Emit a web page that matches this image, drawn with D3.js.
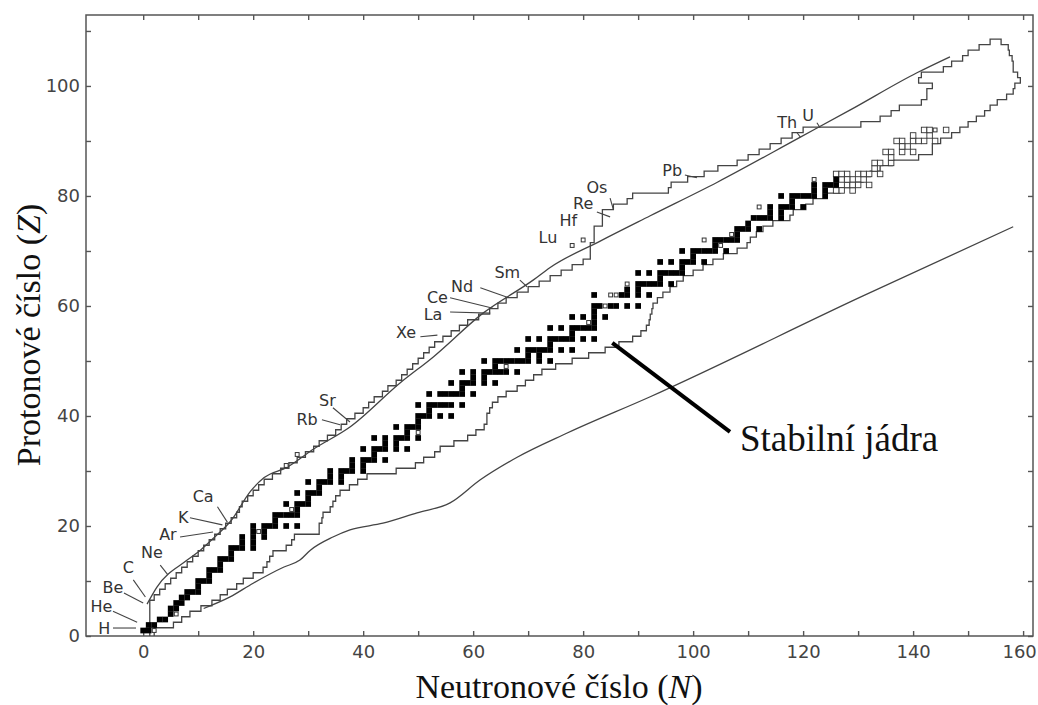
<!DOCTYPE html>
<html lang="cs">
<head>
<meta charset="utf-8">
<title>Stabilní jádra</title>
<script src="https://cdn.jsdelivr.net/npm/d3@7"></script>
<style>
  body { margin: 0; background: #fff; }
  svg { display: block; }
</style>
</head>
<body>
<script>

// stable nuclides, index = proton number Z, values = neutron numbers N
var stableByZ = [
  [], [0,1], [1,2], [3,4], [5], [5,6], [6,7], [7,8], [8,9,10], [10],
  [10,11,12], [12], [12,13,14], [14], [14,15,16], [16], [16,17,18,20], [18,20], [18,20,22], [20,22],
  [20,22,23,24,26,28], [24], [24,25,26,27,28], [28], [26,28,29,30], [30], [28,30,31,32], [32], [30,32,33,34,36], [34,36],
  [34,36,37,38,40], [38,40], [38,40,41,42,44], [42], [40,42,43,44,46,48], [44,46], [42,44,46,47,48,50], [48], [46,48,49,50], [50],
  [50,51,52,54,56], [52], [50,52,53,54,55,56,58], [], [52,54,55,56,57,58,60], [58], [56,58,59,60,62,64], [60,62], [58,60,62,63,64,65,66,68], [64],
  [62,64,65,66,67,68,69,70,72,74], [70,72], [68,70,71,72,73,74,76,78], [74], [70,72,74,75,76,77,78,80,82], [78], [74,76,78,79,80,81,82], [82], [78,80,82,84], [82],
  [82,83,85,86,88,90], [], [82,87,88,90,92], [88,90], [90,91,92,93,94,96], [94], [90,92,94,95,96,97,98], [98], [94,96,98,99,100,102], [100],
  [98,100,101,102,103,104,106], [104], [104,105,106,107,108], [108], [108,109,110,112], [110], [111,112,113,114,116], [114,116], [114,116,117,118,120], [118],
  [116,118,119,120,121,122,124], [122,124], [122,124,125,126], [126]
];

// long-lived nuclides (open squares), [N, Z]
var longLived = [
  [2,1], [6,4], [21,19], [27,23], [26,31], [28,33], [50,37], [66,49], [81,57], [84,60],
  [85,62], [86,62], [88,64], [78,71], [80,72], [102,72], [105,71], [107,73], [112,78], [122,83], [144,92]
];

// members of the natural decay chains (gridded squares), [N, Z]
var chainNuclides = [
  [146,92], [144,90], [143,91], [142,92], [140,90], [138,88], [136,86], [134,84], [133,85], [132,82],
  [131,83], [130,84], [129,81], [128,82], [127,83], [126,84],
  [142,90], [140,88], [139,89], [138,90], [136,88], [134,86], [132,84], [130,82], [129,83], [128,84], [127,81],
  [143,92], [141,90], [140,91], [138,89], [137,90], [136,87], [135,88], [133,86], [131,84], [129,82], [128,83], [127,84], [126,81]
];

// edges of the region of known nuclides, index = Z, value = N of the boundary line
var lightEdgeN = [
  1.2, 1.2, 1.2, 1.2, 1.2, 1.2, 1.2, 2, 3, 4,
  5, 6, 7, 8, 9, 10, 11, 12, 13, 14,
  15, 16, 17, 17.5, 18, 19, 20, 21, 22, 23.5,
  25, 26.5, 28, 29.5, 31, 32, 33.5, 35, 36, 37,
  38.5, 40, 41, 42, 43.5, 44.5, 46, 47, 48, 49,
  50, 51, 52, 53, 54.5, 56, 57.5, 59, 61, 63,
  64.5, 66, 68, 70, 72, 74, 76, 78, 80, 81.3,
  81.3, 81.3, 82, 82, 82, 83.5, 83.5, 83.5, 85.5, 88,
  89, 95.5, 96, 99, 102, 104.5, 108, 110, 112, 114,
  116, 118, 120, 130.5, 134, 136, 137.5, 141.5, 142.5, 142.5,
  143.5, 141, 141.5, 145.5, 147, 149, 150, 152, 154
];
var heavyEdgeN = [
  2, 2, 5.5, 7, 8.5, 10.5, 12.5, 14, 15.3, 17,
  18.2, 20, 21.8, 22.5, 23, 23.6, 26, 27, 27.5, 32,
  32, 32.5, 32.7, 34, 34.5, 35, 35.8, 37.5, 39, 40.7,
  46, 49.5, 51, 53, 54, 56.5, 59, 60.5, 62, 62.5,
  62.5, 63, 63.5, 64.5, 66, 68, 69.5, 71, 72.5, 75,
  78, 81, 84, 86.5, 89, 90.5, 91.5, 92, 92.2, 92.5,
  92.7, 93.5, 94.5, 95.8, 97, 98.2, 100, 101.8, 103.6, 105.5,
  108, 109.8, 110.4, 111.5, 112.7, 114.5, 117.6, 118.2, 120.5, 121.8,
  124.4, 126.7, 129.1, 130.9, 132.2, 134, 136.2, 141, 143.5, 143.5,
  145, 147, 148.5, 150, 151.5, 153, 154, 155.3, 157, 158.2,
  158.5, 159.5, 159, 158.2, 158.2, 158, 157.5, 157.3, 156
];

// smooth limit curves, [N, Z]
var protonLimit = [
  [0.7,5.8], [2.5,8.9], [8,13.8], [10.4,15.6], [13,18], [16,21], [19.5,26.3], [22,28.8], [26.2,30.7], [31,34],
  [37.6,38], [46.7,46], [52.7,50.7], [61.8,58.7], [70.9,64.7], [74,67], [83.1,71.8], [92.2,76.4], [104.4,82.5],
  [119.5,90.7], [128.5,95.6], [140.7,102.4], [146.7,105.3]
];
var neutronLimit = [
  [11,5], [15.8,7.1], [20,9.6], [25.5,12.5], [28.5,13.8], [30.4,15.6], [34.5,18], [37.6,19.3], [43.6,20.5],
  [49.8,22.4], [55.8,24.2], [61.3,28.4], [68,32.5], [77.1,36.9], [92.2,43.5], [130.4,61.6], [158.2,74.4]
];

// element names with text position and leader line ([N, Z])
var elementNames = ["H","He","Be","C","Ne","Ar","K","Ca","Rb","Sr","Xe","La","Ce","Nd","Sm","Lu","Hf","Re","Os","Pb","Th","U"];
var elementTextAt = [
  [-7.1,1.45], [-7.6,5.3], [-5.5,8.9], [-2.7,12.5], [1.6,15.1], [4.5,18.4], [7.3,21.6], [10.9,25.3], [29.8,39.3], [33.5,42.9],
  [47.8,55.1], [52.7,58.4], [53.5,61.5], [58,63.5], [66.2,66], [73.6,72.5], [77.3,75.6], [80,78.7], [82.5,81.6], [96.2,84.7],
  [117.1,93.3], [120.9,94.7]
];
var leaderFrom = [
  [-5.5,1.45], [-5.5,4.5], [-3.5,7.8], [-1.8,10.2], [3.1,12.9], [6.7,18], [8.5,21.5], [13.5,23.5], [32.5,39.3], [34.5,41.5],
  [50.4,54.4], [55.8,58.9], [55.8,61.5], [61.3,63.3], [68.5,64.7], null, null, [82.5,77.1], [84.9,79.6], [98.5,83.8],
  [118.9,91.5], [122.5,93.3]
];
var leaderTo = [
  [-1.3,1.45], [-1.1,2.5], [0,6], [0.4,7.1], [4.5,11.1], [12.7,18.9], [14.4,20.2], [15.3,20.7], [35.8,38.4], [37.6,38.9],
  [53.5,54.7], [63.1,58.7], [63.6,59.6], [66.2,61.6], [69.8,63.5], null, null, [84.9,76.2], [85.5,77.5], [100.7,83.3],
  [119.5,90.7], [123.1,92.4]
];

var xMajor = [0, 20, 40, 60, 80, 100, 120, 140, 160];
var xMinor = [10, 30, 50, 70, 90, 110, 130, 150];
var yMajor = [0, 20, 40, 60, 80, 100];
var yMinor = [10, 30, 50, 70, 90, 110];

//Width and height
var w = 1038;
var h = 705;

var x = d3.scaleLinear().domain([-10.4, 161.8]).range([86, 1033]);
var y = d3.scaleLinear().domain([0, 112.9]).range([636, 15]);

var svg = d3.select("body")
  .append("svg")
  .attr("width", w)
  .attr("height", h);

var lineColor = "#444";
var cell = x(1) - x(0);

// axes, ticks pointing inwards on all four sides
function styleAxis(g) {
  g.select(".domain").remove();
  g.selectAll("line").attr("stroke", "#555").attr("stroke-width", 1.4);
  g.selectAll("text")
    .attr("font-family", "'DejaVu Sans', sans-serif")
    .attr("font-size", "18px")
    .attr("fill", "#444");
}

svg.append("g")
  .attr("transform", "translate(0," + y(0) + ")")
  .call(d3.axisBottom(x)
    .tickValues(xMajor.concat(xMinor))
    .tickSizeInner(-5).tickSizeOuter(0).tickPadding(9)
    .tickFormat(function(d) { return xMajor.indexOf(d) >= 0 ? d : ""; }))
  .call(styleAxis)
  .selectAll("text")
  .filter(function(d) { return d === 160; })
  .attr("dx", "-4");

svg.append("g")
  .attr("transform", "translate(0," + y(112.9) + ")")
  .call(d3.axisTop(x).tickValues(xMajor.concat(xMinor)).tickSizeInner(-5).tickSizeOuter(0).tickFormat(""))
  .call(styleAxis);

svg.append("g")
  .attr("transform", "translate(" + x(-10.4) + ",0)")
  .call(d3.axisLeft(y)
    .tickValues(yMajor.concat(yMinor))
    .tickSizeInner(-5).tickSizeOuter(0).tickPadding(6)
    .tickFormat(function(d) { return yMajor.indexOf(d) >= 0 ? d : ""; }))
  .call(styleAxis);

svg.append("g")
  .attr("transform", "translate(" + x(161.8) + ",0)")
  .call(d3.axisRight(y).tickValues(yMajor.concat(yMinor)).tickSizeInner(-5).tickSizeOuter(0).tickFormat(""))
  .call(styleAxis);

svg.append("rect")
  .attr("x", x(-10.4))
  .attr("y", y(112.9))
  .attr("width", x(161.8) - x(-10.4))
  .attr("height", y(0) - y(112.9))
  .attr("fill", "none")
  .attr("stroke", "#555")
  .attr("stroke-width", 1.5);

// boundary of known nuclides as a staircase
var contour = [];
lightEdgeN.forEach(function(n, z) {
  contour.push([n, Math.max(z - 0.5, 0)]);
  contour.push([n, z + 0.5]);
});
for (var z = heavyEdgeN.length - 1; z >= 0; z--) {
  contour.push([heavyEdgeN[z], z + 0.5]);
  contour.push([heavyEdgeN[z], Math.max(z - 0.5, 0)]);
}

var line = d3.line()
  .x(function(d) { return x(d[0]); })
  .y(function(d) { return y(d[1]); });

svg.append("path")
  .attr("d", line(contour))
  .attr("fill", "none")
  .attr("stroke", lineColor)
  .attr("stroke-width", 1.3);

var smooth = d3.line()
  .x(function(d) { return x(d[0]); })
  .y(function(d) { return y(d[1]); })
  .curve(d3.curveMonotoneX);

[protonLimit, neutronLimit].forEach(function(c) {
  svg.append("path")
    .attr("d", smooth(c))
    .attr("fill", "none")
    .attr("stroke", lineColor)
    .attr("stroke-width", 1.3);
});

// gridded squares of the decay chains
svg.selectAll("rect.chain")
  .data(chainNuclides)
  .enter()
  .append("rect")
  .attr("class", "chain")
  .attr("x", function(d) { return x(d[0] - 0.5); })
  .attr("y", function(d) { return y(d[1] + 0.5); })
  .attr("width", cell)
  .attr("height", cell)
  .attr("fill", "#fff")
  .attr("stroke", "#333")
  .attr("stroke-width", 0.9);

// stable nuclides
var stable = [];
stableByZ.forEach(function(ns, z) {
  ns.forEach(function(n) { stable.push([n, z]); });
});

svg.selectAll("rect.stable")
  .data(stable)
  .enter()
  .append("rect")
  .attr("class", "stable")
  .attr("x", function(d) { return x(d[0] - 0.52); })
  .attr("y", function(d) { return y(d[1] + 0.52); })
  .attr("width", cell * 1.04)
  .attr("height", cell * 1.04)
  .attr("fill", "#000");

svg.selectAll("rect.long")
  .data(longLived)
  .enter()
  .append("rect")
  .attr("class", "long")
  .attr("x", function(d) { return x(d[0] - 0.35); })
  .attr("y", function(d) { return y(d[1] + 0.35); })
  .attr("width", cell * 0.7)
  .attr("height", cell * 0.7)
  .attr("fill", "#fff")
  .attr("stroke", "#333")
  .attr("stroke-width", 1);

// element labels
elementNames.forEach(function(name, i) {
  if (leaderFrom[i]) {
    svg.append("line")
      .attr("x1", x(leaderFrom[i][0])).attr("y1", y(leaderFrom[i][1]))
      .attr("x2", x(leaderTo[i][0])).attr("y2", y(leaderTo[i][1]))
      .attr("stroke", lineColor)
      .attr("stroke-width", 1.1);
  }
  svg.append("text")
    .attr("x", x(elementTextAt[i][0]))
    .attr("y", y(elementTextAt[i][1]))
    .attr("text-anchor", "middle")
    .attr("dominant-baseline", "central")
    .attr("font-family", "'DejaVu Sans', sans-serif")
    .attr("font-size", "16px")
    .attr("fill", "#333")
    .text(name);
});

// pointer to the stable band
svg.append("line")
  .attr("x1", x(85.3)).attr("y1", y(53.3))
  .attr("x2", x(106.7)).attr("y2", y(37.1))
  .attr("stroke", "#000")
  .attr("stroke-width", 4);

svg.append("text")
  .attr("x", x(108.5))
  .attr("y", y(33.6))
  .attr("font-family", "'Liberation Serif', 'Times New Roman', serif")
  .attr("font-size", "37px")
  .attr("fill", "#111")
  .text("Stabilní jádra");

// axis titles
var xt = svg.append("text")
  .attr("x", 559)
  .attr("y", 698)
  .attr("text-anchor", "middle")
  .attr("font-family", "'Liberation Serif', 'Times New Roman', serif")
  .attr("font-size", "34px")
  .attr("fill", "#111");
xt.append("tspan").text("Neutronové číslo (");
xt.append("tspan").attr("font-style", "italic").text("N");
xt.append("tspan").text(")");

var yt = svg.append("text")
  .attr("transform", "translate(40,335) rotate(-90)")
  .attr("text-anchor", "middle")
  .attr("font-family", "'Liberation Serif', 'Times New Roman', serif")
  .attr("font-size", "34px")
  .attr("fill", "#111");
yt.append("tspan").text("Protonové číslo (");
yt.append("tspan").attr("font-style", "italic").text("Z");
yt.append("tspan").text(")");

</script>
</body>
</html>
